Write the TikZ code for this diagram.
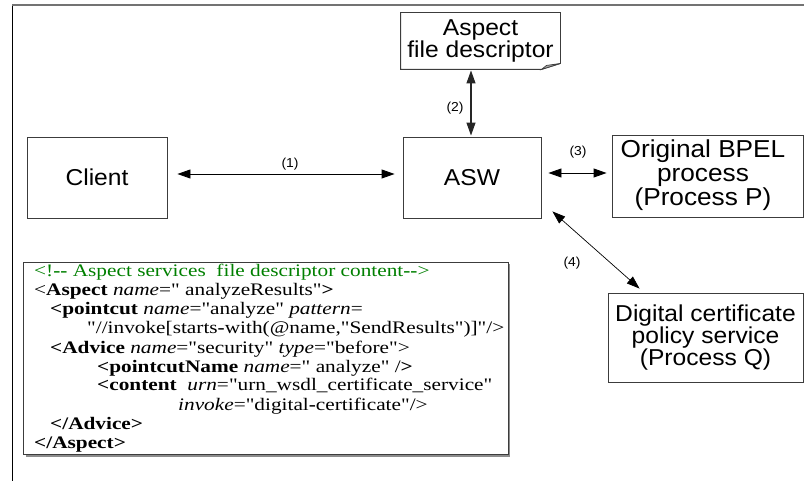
\documentclass[tikz,border=0pt]{standalone}
\usepackage{fontspec}
\setmainfont{Liberation Sans}[FakeStretch=1.07]
\newfontfamily\codefont{Liberation Serif}[FakeStretch=1.21]
\usetikzlibrary{arrows.meta,calc}
\definecolor{cgreen}{RGB}{0,128,0}
\definecolor{boxline}{RGB}{60,60,60}
\begin{document}
\begin{tikzpicture}[x=1pt,y=-1pt,
  box/.style={draw=boxline,line width=0.9pt,fill=white,inner sep=0pt,align=center,
    font=\fontsize{23}{22}\selectfont},
  arr/.style={line width=0.9pt,{Triangle[length=13pt,width=9pt]}-{Triangle[length=13pt,width=9pt]}},
  lbl/.style={font=\fontsize{13}{14}\selectfont,inner sep=0pt},
  code/.style={anchor=base west,inner sep=0pt,font=\codefont\fontsize{17.6}{19}\selectfont}]
\useasboundingbox (0,0) rectangle (804,481);
% outer frame
\coordinate (fbl) at (12,481);
\coordinate (ftl) at (12,5);
\coordinate (ftr) at (804,5);
\draw[line width=0.9pt,black] (fbl) -- (ftl);
\draw[line width=1.5pt,black!55] (ftl) -- (ftr);
% boxes
\node[box,minimum width=140pt,minimum height=81pt] (client) at (97,177.5) {Client};
\node[box,minimum width=138pt,minimum height=81pt] (asw) at (472,177.5) {ASW};
\node[box,minimum width=191pt,minimum height=82pt] (bpel) at (707.5,176) {};
\node[inner sep=0pt,align=center,font=\fontsize{24.5}{24}\selectfont] (bpeltxt) at (703,175) {Original BPEL\\process\\(Process P)};
\node[box,minimum width=195pt,minimum height=89pt] (dig) at (705.5,337.5) {Digital certificate\\policy service\\(Process Q)};
% note
\node[box,draw=none,fill=none,minimum width=159pt,minimum height=56pt] (asp) at (480.5,41) {Aspect\\file descriptor};
\draw[boxline,line width=0.9pt] (asp.north west) -- (asp.north east) -- ($(asp.south east)+(0,-6)$)
  -- ($(asp.south east)+(-19,0)$) -- (asp.south west) -- cycle;
\fill[black!35] ($(asp.south east)+(-19,0)$) -- ($(asp.south east)+(0,-6)$) -- ($(asp.south east)+(-14,-4)$) -- cycle;
\draw[boxline,line width=0.7pt] ($(asp.south east)+(-19,0)$) -- ($(asp.south east)+(0,-6)$) -- ($(asp.south east)+(-14,-4)$) -- cycle;
% connectors
\draw[arr] ($(client.east)+(10,-3.5)$) -- ($(asw.west)+(-8,-3.5)$);
\draw[arr,line width=1.2pt,black!85] ($(asp.south)+(-9.5,1)$) -- ($(asw.north)+(-1,-1)$);
\draw[arr] ($(asw.east)+(7,-4.5)$) -- ($(bpel.west)+(-5,-3)$);
\draw[arr,line width=0.7pt] ($(asw.south east)+(11,-7)$) -- ($(dig.north west)+(32,-4)$);
\node[lbl] (l1) at (290,164) {(1)};
\node[lbl] (l2) at (455,108) {(2)};
\node[lbl] (l3) at (578,152) {(3)};
\node[lbl] (l4) at (572,263) {(4)};
% code box
\fill[black!45] (25.5,264.5) rectangle (510,456.5);
\draw[boxline,line width=0.9pt,fill=white] (23,262) rectangle (508,454) coordinate (cbr);
\node[code] (c1) at (34,277) {\color{cgreen}<!\textbf{-{}-} Aspect services\ \ file descriptor content\textbf{-{}-}>};
\node[code] (c2) at (34,296) {<\textbf{Aspect} \textit{name}=" analyzeResults"\textbf{>}};
\node[code] (c3) at (50,315) {\textbf{<pointcut} \textit{name}="analyze" \textit{pattern}=};
\node[code] (c4) at (87,334) {"//invoke[starts\textbf{-}with(@name,"SendResults")]"/>};
\node[code] (c5) at (50,353) {\textbf{<Advice} \textit{name}="security" \textit{type}="before">};
\node[code] (c6) at (97,372) {\textbf{<pointcutName} \textit{name}=" analyze" /\textbf{>}};
\node[code] (c7) at (97,391) {\textbf{<content}\ \ \textit{urn}="urn\_wsdl\_certificate\_service"};
\node[code] (c8) at (178,410) {\textit{invoke}="digital\textbf{-}certificate"/>};
\node[code] (c9) at (50,429) {\textbf{</Advice>}};
\node[code] (c10) at (34,448) {\textbf{</Aspect>}};
\end{tikzpicture}
\end{document}
